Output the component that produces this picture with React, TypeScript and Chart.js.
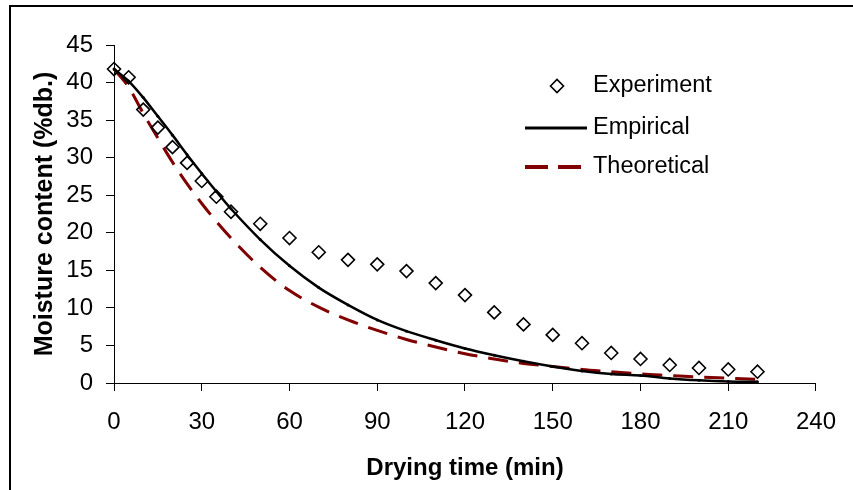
import React, { useEffect, useRef } from "react";
import { Chart, registerables } from "chart.js";

Chart.register(...registerables);

// ---- data ----
const timeMin = [0, 5, 10, 15, 20, 25, 30, 35, 40, 50, 60, 70, 80, 90, 100, 110, 120, 130, 140, 150, 160, 170, 180, 190, 200, 210, 220];
const experiment = [41.8, 40.7, 36.4, 34.0, 31.4, 29.3, 26.9, 24.8, 22.8, 21.2, 19.3, 17.4, 16.4, 15.8, 14.9, 13.3, 11.7, 9.4, 7.8, 6.4, 5.3, 4.0, 3.2, 2.4, 2.0, 1.8, 1.5];
const empirical = [41.8, 40.2, 38.0, 35.5, 33.0, 30.4, 27.9, 25.5, 23.2, 19.1, 15.6, 12.7, 10.4, 8.4, 6.9, 5.7, 4.6, 3.7, 2.9, 2.2, 1.6, 1.2, 1.0, 0.6, 0.35, 0.2, 0.15];
const theoretical = [41.8, 39.4, 35.9, 32.6, 29.4, 26.5, 23.9, 21.5, 19.3, 15.4, 12.3, 10.1, 8.4, 7.0, 5.8, 4.8, 3.9, 3.2, 2.6, 2.2, 1.8, 1.5, 1.2, 1.0, 0.8, 0.65, 0.5];
const xTicks = [0, 30, 60, 90, 120, 150, 180, 210, 240];
const yTicks = [0, 5, 10, 15, 20, 25, 30, 35, 40, 45];
const seriesLabels = ["Experiment", "Empirical", "Theoretical"];
const xTitle = "Drying time (min)";
const yTitle = "Moisture content (%db.)";

const FONT = "'Liberation Sans', Arial, Helvetica, sans-serif";
const DARK_RED = "#800000";

const framePlugin = {
  id: "frame",
  beforeDraw(chart: any) {
    const ctx = chart.ctx;
    ctx.save();
    ctx.fillStyle = "#fff";
    ctx.fillRect(0, 0, chart.width, chart.height);
    ctx.strokeStyle = "#000";
    ctx.lineWidth = 2;
    ctx.beginPath();
    ctx.moveTo(10, chart.height + 5);
    ctx.lineTo(10, 6);
    ctx.lineTo(chart.width + 5, 6);
    ctx.stroke();
    ctx.restore();
  },
};

const legendPlugin = {
  id: "customLegend",
  afterDraw(chart: any) {
    const ctx = chart.ctx;
    const ds = chart.data.datasets;
    ctx.save();
    ctx.font = `23.5px ${FONT}`;
    ctx.fillStyle = "#000";
    ctx.textBaseline = "middle";
    ctx.textAlign = "left";
    const textX = 593;
    // Experiment
    const y0 = 86;
    ctx.strokeStyle = "#000";
    ctx.lineWidth = 1.6;
    ctx.beginPath();
    ctx.moveTo(557 - 6.5, y0);
    ctx.lineTo(557, y0 - 6.5);
    ctx.lineTo(557 + 6.5, y0);
    ctx.lineTo(557, y0 + 6.5);
    ctx.closePath();
    ctx.stroke();
    ctx.fillText(ds[0].label, textX, y0);
    // Empirical
    const y1 = 128;
    ctx.lineWidth = 3;
    ctx.beginPath();
    ctx.moveTo(525, y1);
    ctx.lineTo(587, y1);
    ctx.stroke();
    ctx.fillText(ds[1].label, textX, y1);
    // Theoretical
    const y2 = 167;
    ctx.strokeStyle = DARK_RED;
    ctx.lineWidth = 4;
    ctx.setLineDash([23, 10]);
    ctx.beginPath();
    ctx.moveTo(525, y2);
    ctx.lineTo(581, y2);
    ctx.stroke();
    ctx.setLineDash([]);
    ctx.fillText(ds[2].label, textX, y2);
    ctx.restore();
  },
};

export default function App() {
  const ref = useRef<HTMLCanvasElement>(null);
  useEffect(() => {
    const toPts = (arr: number[]) => timeMin.map((t, i) => ({ x: t, y: arr[i] }));
    const chart = new Chart(ref.current as HTMLCanvasElement, {
      type: "line",
      data: {
        datasets: [
          {
            label: seriesLabels[0],
            data: toPts(experiment),
            showLine: false,
            pointStyle: "rectRot",
            pointRadius: 6.5,
            pointBorderWidth: 1.6,
            pointBorderColor: "#000",
            pointBackgroundColor: "rgba(0,0,0,0)",
            borderColor: "#000",
            clip: false,
          } as any,
          {
            label: seriesLabels[1],
            data: toPts(empirical),
            borderColor: "#000",
            borderWidth: 2.5,
            pointRadius: 1.5,
            pointBackgroundColor: "#000",
            pointBorderWidth: 0,
            tension: 0.4,
            cubicInterpolationMode: "monotone",
            clip: false,
          } as any,
          {
            label: seriesLabels[2],
            data: toPts(theoretical),
            borderColor: DARK_RED,
            borderWidth: 3,
            borderDash: [20, 11],
            pointRadius: 0,
            tension: 0.4,
            cubicInterpolationMode: "monotone",
            clip: false,
          } as any,
        ],
      },
      options: {
        responsive: false,
        animation: false,
        devicePixelRatio: 1,
        layout: { padding: { left: 30, top: 45, right: 24, bottom: 7 } },
        plugins: { legend: { display: false }, tooltip: { enabled: false } },
        scales: {
          x: {
            type: "linear",
            min: 0,
            max: 240,
            afterBuildTicks: (s: any) => {
              s.ticks = xTicks.map((v) => ({ value: v }));
            },
            afterFit: (s: any) => {
              s.height = 100;
            },
            grid: { drawOnChartArea: false, drawTicks: true, tickLength: 8, color: "#000", lineWidth: 1 },
            border: { color: "#000", width: 1 },
            ticks: { color: "#000", font: { family: FONT, size: 24 }, padding: 17, maxRotation: 0, autoSkip: false },
            title: { display: true, text: xTitle, color: "#000", font: { family: FONT, size: 24, weight: "bold" }, padding: 0 },
          },
          y: {
            type: "linear",
            min: 0,
            max: 45,
            afterBuildTicks: (s: any) => {
              s.ticks = yTicks.map((v) => ({ value: v }));
            },
            afterFit: (s: any) => {
              s.width = 84;
            },
            grid: { drawOnChartArea: false, drawTicks: true, tickLength: 8, color: "#000", lineWidth: 1 },
            border: { color: "#000", width: 1 },
            ticks: { color: "#000", font: { family: FONT, size: 24 }, padding: 13, autoSkip: false },
            title: { display: true, text: yTitle, color: "#000", font: { family: FONT, size: 25, weight: "bold" }, padding: 0 },
          },
        },
      } as any,
      plugins: [framePlugin, legendPlugin],
    });
    return () => chart.destroy();
  }, []);
  return (
    <div style={{ position: "absolute", left: 0, top: 0, width: 853, height: 490, background: "#fff" }}>
      <canvas ref={ref} width={853} height={490} style={{ display: "block" }} />
    </div>
  );
}
